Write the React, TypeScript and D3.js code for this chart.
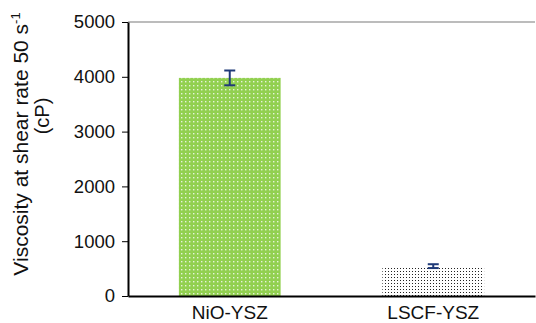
import React, { useEffect, useRef } from 'react';
import * as d3 from 'd3';

const categories = ['NiO-YSZ', 'LSCF-YSZ'];
const viscosity = [3980, 545];
const errors = [135, 35];
const yTicks = [0, 1000, 2000, 3000, 4000, 5000];
const patterns = ['greenDots', 'blackDots'];

const FONT = 'Liberation Sans, Arial, sans-serif';

const App = () => {
  const ref = useRef<SVGSVGElement>(null);

  useEffect(() => {
    const width = 536,
      height = 323;
    const margin = { top: 22, right: 1, bottom: 27, left: 128 };
    const svg = d3.select(ref.current).attr('width', width).attr('height', height);
    svg.selectAll('*').remove();

    const defs = svg.append('defs');
    const g1 = defs
      .append('pattern')
      .attr('id', 'greenDots')
      .attr('patternUnits', 'userSpaceOnUse')
      .attr('width', 4)
      .attr('height', 4);
    g1.append('rect').attr('width', 4).attr('height', 4).attr('fill', '#92d050');
    g1.append('rect').attr('x', 1).attr('y', 1).attr('width', 1.4).attr('height', 1.4).attr('fill', '#e6f4d8');

    const g2 = defs
      .append('pattern')
      .attr('id', 'blackDots')
      .attr('patternUnits', 'userSpaceOnUse')
      .attr('width', 3)
      .attr('height', 3);
    g2.append('rect').attr('width', 3).attr('height', 3).attr('fill', '#fff');
    g2.append('rect').attr('x', 1).attr('y', 1).attr('width', 1).attr('height', 1).attr('fill', '#222');

    const x = d3
      .scaleBand()
      .domain(categories)
      .range([margin.left, width - margin.right])
      .paddingInner(0.5)
      .paddingOuter(0.25);
    const y = d3
      .scaleLinear()
      .domain([0, 5000])
      .range([height - margin.bottom, margin.top]);

    // top border line at 5000
    svg
      .append('line')
      .attr('x1', margin.left)
      .attr('x2', width - margin.right)
      .attr('y1', y(5000))
      .attr('y2', y(5000))
      .attr('stroke', '#a6a6a6')
      .attr('stroke-width', 1.5);

    svg
      .selectAll('rect.bar')
      .data(viscosity)
      .enter()
      .append('rect')
      .attr('class', 'bar')
      .attr('x', (_, i) => x(categories[i])!)
      .attr('y', (d) => y(d))
      .attr('width', x.bandwidth())
      .attr('height', (d) => y(0) - y(d))
      .attr('fill', (_, i) => `url(#${patterns[i]})`);

    // error bars
    const eb = svg
      .selectAll('g.err')
      .data(viscosity)
      .enter()
      .append('g')
      .attr('class', 'err')
      .attr('stroke', '#1f3a78')
      .attr('stroke-width', 2);
    const cx = (i: number) => x(categories[i])! + x.bandwidth() / 2;
    eb.append('line')
      .attr('x1', (_, i) => cx(i))
      .attr('x2', (_, i) => cx(i))
      .attr('y1', (d, i) => y(d + errors[i]))
      .attr('y2', (d, i) => y(d - errors[i]));
    eb.append('line')
      .attr('x1', (_, i) => cx(i) - 5.5)
      .attr('x2', (_, i) => cx(i) + 5.5)
      .attr('y1', (d, i) => y(d + errors[i]))
      .attr('y2', (d, i) => y(d + errors[i]));
    eb.append('line')
      .attr('x1', (_, i) => cx(i) - 5.5)
      .attr('x2', (_, i) => cx(i) + 5.5)
      .attr('y1', (d, i) => y(d - errors[i]))
      .attr('y2', (d, i) => y(d - errors[i]));

    // y axis
    const yAxis = svg
      .append('g')
      .attr('transform', `translate(${margin.left},0)`)
      .call(
        d3
          .axisLeft(y)
          .tickValues(yTicks)
          .tickFormat(d3.format('d'))
          .tickSize(6)
          .tickPadding(7)
          .tickSizeOuter(0)
      );
    yAxis.select('.domain').attr('stroke', '#000').attr('stroke-width', 2);
    yAxis.selectAll('.tick line').attr('stroke', '#000');
    yAxis
      .selectAll('.tick text')
      .attr('font-family', FONT)
      .attr('font-size', 18.5)
      .attr('fill', '#111');

    // x axis
    const xAxis = svg
      .append('g')
      .attr('transform', `translate(0,${y(0)})`)
      .call(d3.axisBottom(x).tickSize(0).tickPadding(10).tickSizeOuter(0));
    xAxis.select('.domain').attr('stroke', '#000').attr('stroke-width', 2);
    xAxis
      .selectAll('.tick text')
      .attr('font-family', FONT)
      .attr('font-size', 19)
      .attr('fill', '#111');

    // y label, two lines
    const line1 = svg
      .append('text')
      .attr('transform', `translate(28,144) rotate(-90)`)
      .attr('text-anchor', 'middle')
      .attr('font-family', FONT)
      .attr('font-size', 21)
      .attr('fill', '#111');
    line1.append('tspan').text('Viscosity at shear rate 50 s');
    line1.append('tspan').attr('dy', -8).attr('font-size', 13).text('-1');

    svg
      .append('text')
      .attr('transform', `translate(49,116) rotate(-90)`)
      .attr('text-anchor', 'middle')
      .attr('font-family', FONT)
      .attr('font-size', 20)
      .attr('fill', '#111')
      .text('(cP)');
  }, []);

  return <svg ref={ref} style={{ display: 'block', position: 'absolute', left: 0, top: 0 }} />;
};

export default App;
